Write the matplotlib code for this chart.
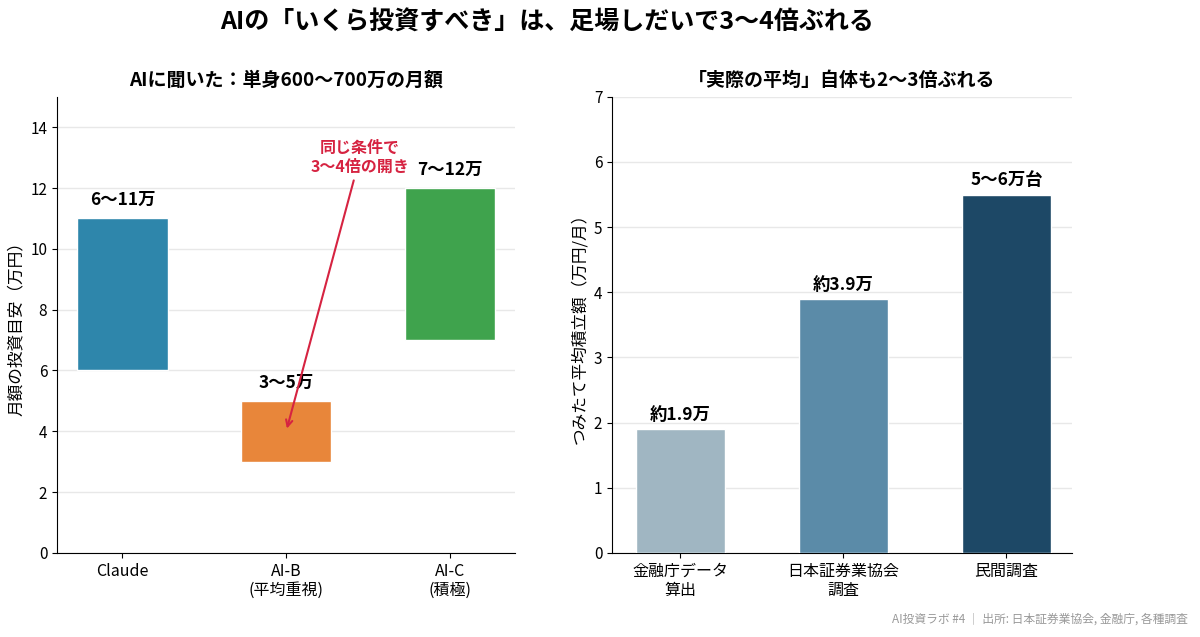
import matplotlib
matplotlib.use('Agg')
import matplotlib.pyplot as plt

plt.rcParams['font.family'] = ['Noto Sans CJK JP', 'DejaVu Sans']

# left panel: AI answers (range of monthly amount, 万円)
ai_names = ['Claude', 'AI-B\n(平均重視)', 'AI-C\n(積極)']
ai_low = [6, 3, 7]
ai_high = [11, 5, 12]
ai_labels = ['6〜11万', '3〜5万', '7〜12万']
ai_colors = ['#2E86AB', '#E8863A', '#3FA34D']

# right panel: actual averages
src_names = ['金融庁データ\n算出', '日本証券業協会\n調査', '民間調査']
src_values = [1.9, 3.9, 5.5]
src_labels = ['約1.9万', '約3.9万', '5〜6万台']
src_colors = ['#A0B6C2', '#5B8BA8', '#1D4866']

fig = plt.figure(figsize=(12, 6.37), dpi=100)
ax1 = fig.add_axes([0.0475, 0.132, 0.382, 0.716])
ax2 = fig.add_axes([0.51, 0.132, 0.383, 0.716])

fig.text(0.456, 0.965, 'AIの「いくら投資すべき」は、足場しだいで3〜4倍ぶれる',
         ha='center', va='center', fontsize=18, fontweight='bold')

# left chart
x = range(len(ai_names))
heights = [h - l for l, h in zip(ai_low, ai_high)]
ax1.bar(x, heights, bottom=ai_low, width=0.55, color=ai_colors,
        edgecolor='white', linewidth=1, zorder=3)
for i in x:
    ax1.text(i, ai_high[i] + 0.3, ai_labels[i], ha='center', va='bottom',
             fontsize=12.5, fontweight='bold')
ax1.annotate('同じ条件で\n3〜4倍の開き', xy=(1, 4), xytext=(1.45, 13),
             ha='center', va='center', fontsize=11.5, fontweight='bold',
             color='#D62341',
             arrowprops=dict(arrowstyle='->', color='#D62341', lw=1.5))
ax1.set_ylim(0, 15)
ax1.set_xlim(-0.4, 2.4)
ax1.set_xticks(list(x))
ax1.set_xticklabels(ai_names, fontsize=11.5)
ax1.set_ylabel('月額の投資目安（万円）', fontsize=12)
ax1.set_title('AIに聞いた：単身600〜700万の月額', fontsize=13.7,
              fontweight='bold', pad=8)

# right chart
x2 = range(len(src_names))
ax2.bar(x2, src_values, width=0.55, color=src_colors,
        edgecolor='white', linewidth=1, zorder=3)
for i in x2:
    ax2.text(i, src_values[i] + 0.08, src_labels[i], ha='center',
             va='bottom', fontsize=12.5, fontweight='bold')
ax2.set_ylim(0, 7)
ax2.set_xlim(-0.42, 2.4)
ax2.set_xticks(list(x2))
ax2.set_xticklabels(src_names, fontsize=11.5)
ax2.set_ylabel('つみたて平均積立額（万円/月）', fontsize=12)
ax2.set_title('「実際の平均」自体も2〜3倍ぶれる', fontsize=13.7,
              fontweight='bold', pad=8)

for ax in (ax1, ax2):
    ax.spines['top'].set_visible(False)
    ax.spines['right'].set_visible(False)
    ax.grid(axis='y', color='#E8E8E8', linewidth=1, zorder=0)
    ax.tick_params(axis='y', labelsize=11)

fig.text(0.99, 0.028, 'AI投資ラボ #4 │ 出所: 日本証券業協会, 金融庁, 各種調査',
         ha='right', va='center', fontsize=8.5, color='#999999')

fig.savefig('out.png', dpi=100)
